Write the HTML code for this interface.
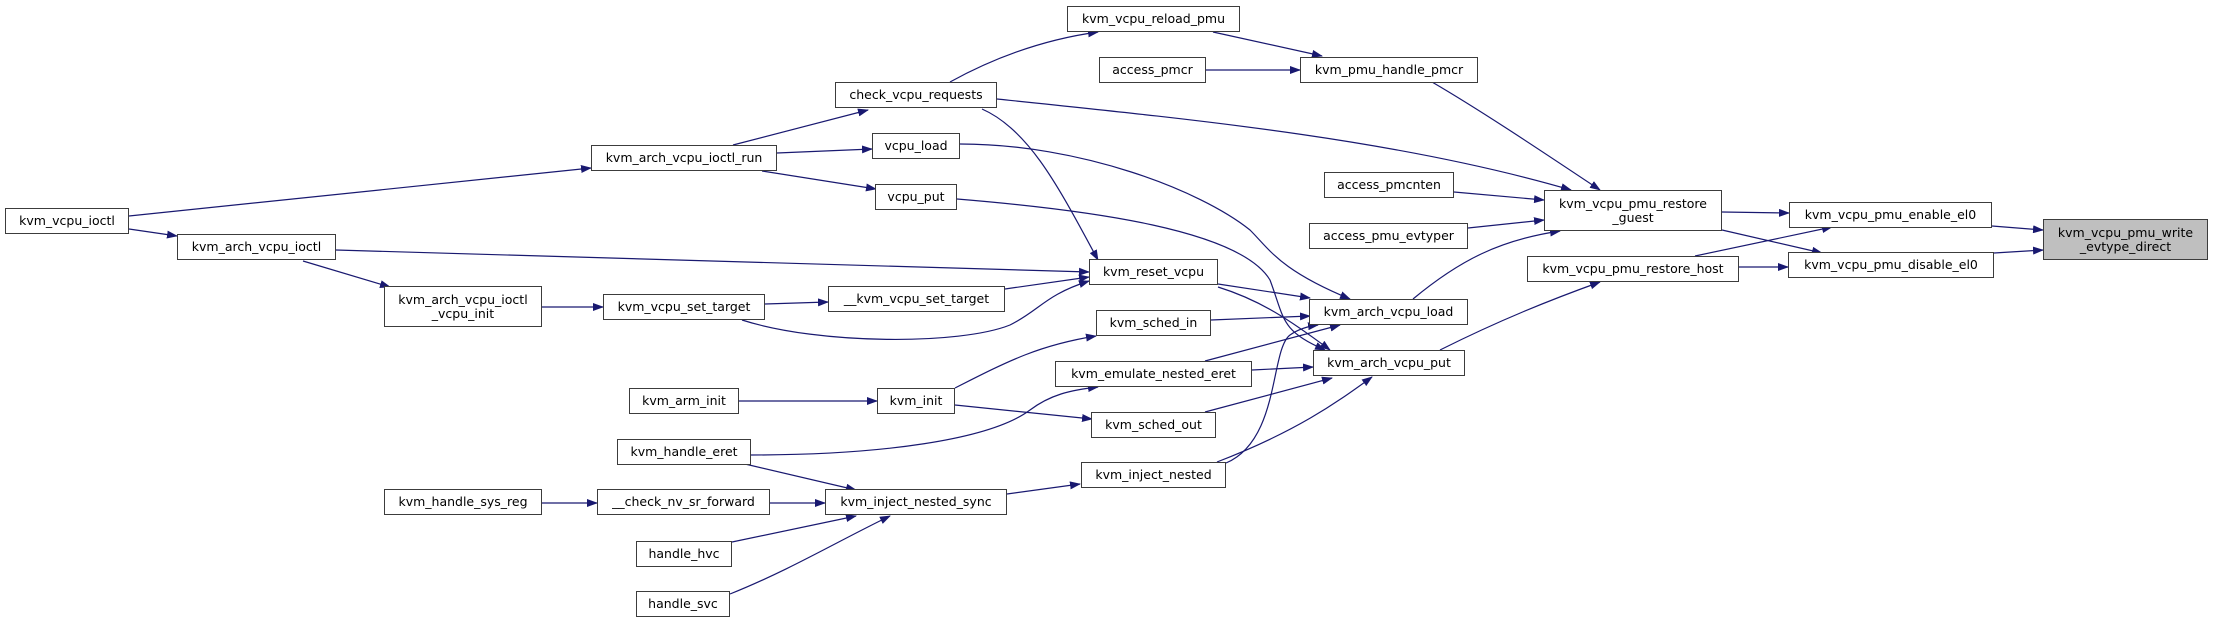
<!DOCTYPE html>
<html><head><meta charset="utf-8"><style>
body{margin:0;width:2213px;height:620px;background:#fff;position:relative;overflow:hidden;font-family:"DejaVu Sans","Liberation Sans",sans-serif;}
.n{position:absolute;box-sizing:border-box;border:1px solid #3c3c3c;background:#fff;font-size:12.5px;color:#000;display:flex;align-items:center;justify-content:center;text-align:center;line-height:14px;white-space:nowrap}
svg{position:absolute;left:0;top:0}
</style></head><body>
<svg width="2213" height="620" viewBox="0 0 2213 620">
<defs><marker id="a" markerWidth="11" markerHeight="8" refX="10" refY="4" orient="auto" markerUnits="userSpaceOnUse"><path d="M0,0L11,4L0,8z" fill="#191970"/></marker></defs>
<g fill="none" stroke="#191970" stroke-width="1.2" marker-end="url(#a)">
<path d="M129,216L591,168"/>
<path d="M129,229L177,236"/>
<path d="M336,250L1089,272"/>
<path d="M303,261L390,287"/>
<path d="M542,307L603,307"/>
<path d="M765,304L828,302"/>
<path d="M742,320C820,345 960,345 1010,325C1040,310 1045,295 1089,281"/>
<path d="M1005,289L1089,277"/>
<path d="M733,145L868,110"/>
<path d="M777,153L872,149"/>
<path d="M762,171L876,189"/>
<path d="M950,82C990,60 1040,40 1098,32"/>
<path d="M982,109C1030,130 1060,190 1098,260"/>
<path d="M997,99C1200,120 1400,140 1571,190"/>
<path d="M960,144C1080,144 1200,190 1250,230C1270,250 1280,270 1350,299"/>
<path d="M957,199C1090,210 1240,230 1270,280C1285,320 1280,330 1325,350"/>
<path d="M1213,32L1322,56"/>
<path d="M1206,70L1300,70"/>
<path d="M1432,82C1480,110 1540,150 1600,190"/>
<path d="M1454,192L1544,200"/>
<path d="M1468,228L1544,220"/>
<path d="M1413,299C1460,260 1500,240 1560,231"/>
<path d="M1722,212L1789,213"/>
<path d="M1722,230L1822,253"/>
<path d="M1695,256L1832,227"/>
<path d="M1739,267L1788,267"/>
<path d="M1992,226L2043,230"/>
<path d="M1994,253L2043,250"/>
<path d="M1440,350C1500,320 1550,300 1600,282"/>
<path d="M1218,284L1310,298"/>
<path d="M1218,287C1260,300 1290,320 1330,350"/>
<path d="M1211,320L1310,316"/>
<path d="M1205,361L1340,325"/>
<path d="M1252,370L1313,367"/>
<path d="M1205,412L1332,378"/>
<path d="M1217,462C1300,430 1340,400 1372,377"/>
<path d="M1226,463C1280,440 1270,350 1290,335C1300,328 1310,326 1318,325"/>
<path d="M955,388C1010,360 1040,345 1096,336"/>
<path d="M955,405L1092,419"/>
<path d="M739,401L877,401"/>
<path d="M751,455C880,455 990,440 1030,410C1050,395 1070,390 1098,387"/>
<path d="M745,464L856,490"/>
<path d="M542,503L597,503"/>
<path d="M770,503L825,503"/>
<path d="M732,542L856,516"/>
<path d="M730,594C790,570 840,540 890,516"/>
<path d="M1007,494L1080,484"/>
</g></svg>
<div class="n" style="left:5px;top:208px;width:124px;height:26px">kvm_vcpu_ioctl</div>
<div class="n" style="left:177px;top:234px;width:159px;height:26px">kvm_arch_vcpu_ioctl</div>
<div class="n" style="left:591px;top:145px;width:186px;height:26px">kvm_arch_vcpu_ioctl_run</div>
<div class="n" style="left:835px;top:82px;width:162px;height:26px">check_vcpu_requests</div>
<div class="n" style="left:872px;top:133px;width:88px;height:26px">vcpu_load</div>
<div class="n" style="left:875px;top:184px;width:82px;height:26px">vcpu_put</div>
<div class="n" style="left:384px;top:286px;width:158px;height:41px">kvm_arch_vcpu_ioctl<br>_vcpu_init</div>
<div class="n" style="left:603px;top:294px;width:162px;height:26px">kvm_vcpu_set_target</div>
<div class="n" style="left:828px;top:286px;width:177px;height:26px">__kvm_vcpu_set_target</div>
<div class="n" style="left:629px;top:388px;width:110px;height:26px">kvm_arm_init</div>
<div class="n" style="left:877px;top:388px;width:78px;height:26px">kvm_init</div>
<div class="n" style="left:617px;top:439px;width:134px;height:26px">kvm_handle_eret</div>
<div class="n" style="left:384px;top:489px;width:158px;height:26px">kvm_handle_sys_reg</div>
<div class="n" style="left:597px;top:489px;width:173px;height:26px">__check_nv_sr_forward</div>
<div class="n" style="left:825px;top:489px;width:182px;height:26px">kvm_inject_nested_sync</div>
<div class="n" style="left:636px;top:541px;width:96px;height:26px">handle_hvc</div>
<div class="n" style="left:636px;top:591px;width:94px;height:26px">handle_svc</div>
<div class="n" style="left:1067px;top:6px;width:173px;height:26px">kvm_vcpu_reload_pmu</div>
<div class="n" style="left:1099px;top:57px;width:107px;height:26px">access_pmcr</div>
<div class="n" style="left:1300px;top:57px;width:178px;height:26px">kvm_pmu_handle_pmcr</div>
<div class="n" style="left:1324px;top:172px;width:130px;height:26px">access_pmcnten</div>
<div class="n" style="left:1309px;top:223px;width:159px;height:26px">access_pmu_evtyper</div>
<div class="n" style="left:1544px;top:190px;width:178px;height:41px">kvm_vcpu_pmu_restore<br>_guest</div>
<div class="n" style="left:1527px;top:256px;width:212px;height:26px">kvm_vcpu_pmu_restore_host</div>
<div class="n" style="left:1789px;top:202px;width:203px;height:26px">kvm_vcpu_pmu_enable_el0</div>
<div class="n" style="left:1788px;top:252px;width:206px;height:26px">kvm_vcpu_pmu_disable_el0</div>
<div class="n" style="left:2043px;top:219px;width:165px;height:41px;background:#bfbfbf">kvm_vcpu_pmu_write<br>_evtype_direct</div>
<div class="n" style="left:1089px;top:259px;width:129px;height:26px">kvm_reset_vcpu</div>
<div class="n" style="left:1096px;top:310px;width:115px;height:26px">kvm_sched_in</div>
<div class="n" style="left:1055px;top:361px;width:197px;height:26px">kvm_emulate_nested_eret</div>
<div class="n" style="left:1091px;top:412px;width:125px;height:26px">kvm_sched_out</div>
<div class="n" style="left:1081px;top:462px;width:145px;height:26px">kvm_inject_nested</div>
<div class="n" style="left:1309px;top:299px;width:159px;height:26px">kvm_arch_vcpu_load</div>
<div class="n" style="left:1313px;top:350px;width:152px;height:26px">kvm_arch_vcpu_put</div>
</body></html>
